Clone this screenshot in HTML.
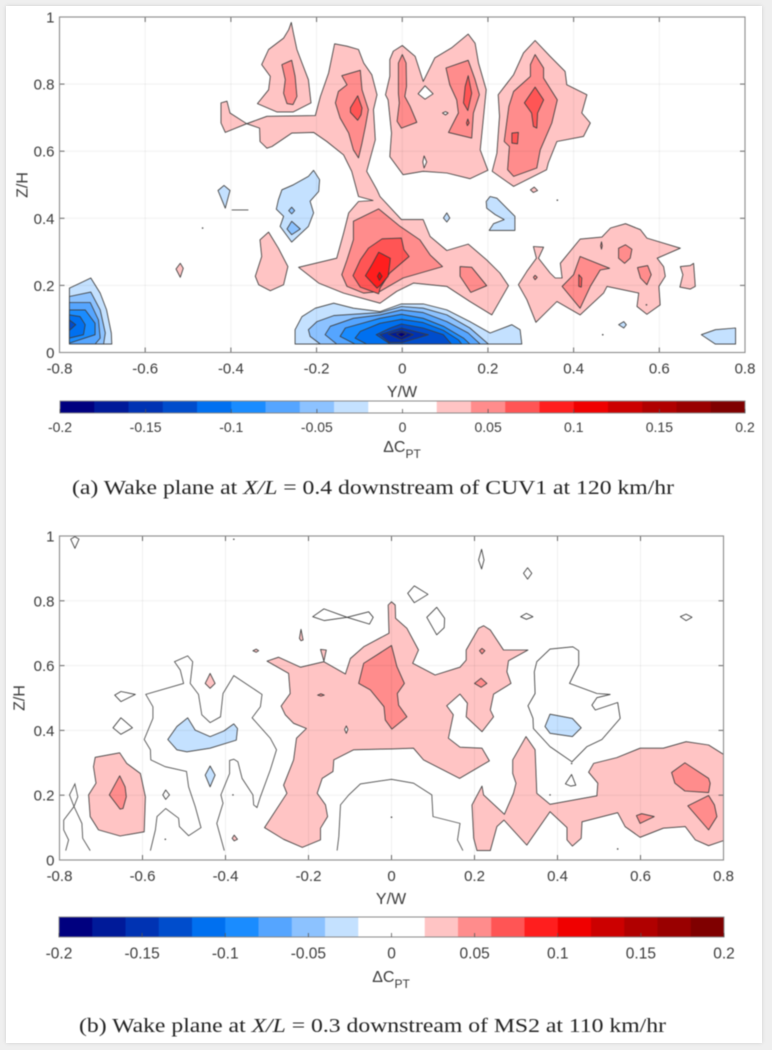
<!DOCTYPE html>
<html lang="en">
<head>
<meta charset="utf-8">
<title>Wake plane total pressure difference contours</title>
<style>
  html, body { margin: 0; padding: 0; width: 772px; height: 1050px; overflow: hidden; background: #efefef; }
  #card { position: absolute; left: 6px; top: 6px; width: 756px; height: 1037px; background: #fff; box-shadow: 0 0 4px rgba(0,0,0,.12); }
  #figure { position: absolute; left: 0; top: 0; filter: blur(0.45px); }
  text { font-family: "Liberation Sans", sans-serif; fill: #3a3a3a; }
  .tick { font-size: 15px; }
  .title { font-size: 16px; }
  .caption { font-family: "Liberation Serif", serif; font-size: 20.5px; fill: #222; }
  .caption tspan.it { font-style: italic; }
</style>
</head>
<body>
<div id="card"></div>
<svg id="figure" width="772" height="1050" viewBox="0 0 772 1050" xmlns="http://www.w3.org/2000/svg">
  <g id="panel-a"></g>
  <g id="panel-b"></g>
  <text class="caption" x="72" y="494" textLength="602" lengthAdjust="spacingAndGlyphs">(a)  Wake plane at <tspan class="it">X/L</tspan> = 0.4 downstream of CUV1 at 120 km/hr</text>
  <text class="caption" x="79" y="1032" textLength="587" lengthAdjust="spacingAndGlyphs">(b)  Wake plane at <tspan class="it">X/L</tspan> = 0.3 downstream of MS2 at 110 km/hr</text>
</svg>
<script>
const xTicks = [-0.8, -0.6, -0.4, -0.2, 0, 0.2, 0.4, 0.6, 0.8];
const yTicks = [0, 0.2, 0.4, 0.6, 0.8, 1];
const colorbarTicks = [-0.2, -0.15, -0.1, -0.05, 0, 0.05, 0.1, 0.15, 0.2];
const colorbarBins = [-0.19,-0.17,-0.15,-0.13,-0.11,-0.09,-0.07,-0.05,-0.03,-0.01,0.01,0.03,0.05,0.07,0.09,0.11,0.13,0.15,0.17,0.19];

/* Each contour: [ΔCpt level, [y/w, z/h, y/w, z/h, ...]] */
const panelAContours = [
  [0.03,[-.259,.984,-.254,.952,-.246,.903,-.234,.863,-.219,.813,-.213,.744,-.254,.717,-.293,.717,-.338,.742,-.312,.783,-.308,.823,-.328,.858,-.312,.903,-.277,.937,-.265,.962]],
  [0.05,[-.281,.858,-.258,.871,-.25,.823,-.246,.763,-.255,.739,-.269,.742,-.277,.773,-.273,.813]],
  [-0.03,[-.25,.025,-.25,.068,-.234,.107,-.203,.132,-.16,.147,-.114,.132,-.052,.122,-.002,.145,.049,.145,.104,.127,.158,.092,.205,.058,.256,.083,.275,.068,.279,.025]],
  [-0.05,[-.191,.025,-.215,.048,-.219,.068,-.199,.092,-.16,.11,-.052,.119,-.002,.137,.049,.132,.104,.112,.158,.073,.201,.025]],
  [-0.07,[-.153,.025,-.18,.053,-.168,.078,-.114,.102,-.052,.112,-.002,.127,.049,.119,.104,.092,.154,.058,.182,.025]],
  [-0.09,[-.11,.025,-.145,.048,-.133,.073,-.052,.102,-.002,.114,.049,.102,.096,.078,.143,.043,.158,.025]],
  [-0.11,[-.083,.025,-.11,.043,-.098,.063,-.052,.087,-.002,.099,.049,.089,.096,.066,.131,.038,.139,.025]],
  [-0.13,[-.028,.025,-.061,.053,-.028,.073,-.002,.085,.049,.073,.096,.053,.115,.025]],
  [-0.15,[-.052,.053,-.002,.073,.061,.053,.001,.03,-.03,.03]],
  [-0.17,[-.033,.055,-.002,.065,.026,.053,-.002,.038]],
  [-0.19,[-.013,.055,-.002,.06,.01,.055,-.002,.046]],
  [-0.03,[-.777,.025,-.777,.192,-.752,.207,-.727,.222,-.705,.177,-.69,.127,-.679,.058,-.678,.025]],
  [-0.05,[-.777,.025,-.777,.167,-.727,.18,-.705,.127,-.693,.058,-.697,.025]],
  [-0.07,[-.777,.025,-.777,.149,-.728,.149,-.709,.097,-.705,.043,-.717,.025]],
  [-0.09,[-.777,.028,-.777,.127,-.74,.127,-.717,.087,-.717,.053]],
  [-0.11,[-.777,.043,-.777,.112,-.752,.107,-.74,.083,-.744,.053]],
  [-0.13,[-.777,.066,-.777,.097,-.762,.083]],
  [0.03,[-.423,.744,-.409,.749,-.402,.714,-.363,.682,-.316,.704,-.203,.706,-.191,.763,-.172,.833,-.158,.92,-.129,.913,-.102,.903,-.09,.863,-.071,.828,-.059,.768,-.067,.724,-.063,.634,-.083,.54,-.059,.485,-.052,.465,-.002,.396,.049,.396,.065,.346,.104,.304,.154,.323,.197,.276,.228,.237,.248,.199,.209,.112,.158,.152,.104,.197,.026,.207,-.013,.182,-.052,.147,-.137,.177,-.195,.207,-.242,.254,-.153,.281,-.137,.356,-.125,.416,-.102,.45,-.068,.453,-.102,.465,-.118,.54,-.137,.589,-.176,.629,-.207,.656,-.258,.654,-.304,.614,-.316,.609,-.332,.629,-.333,.669,-.363,.682,-.413,.656,-.423,.684]],
  [0.05,[-.141,.825,-.098,.841,-.094,.783,-.079,.724,-.086,.674,-.094,.624,-.102,.58,-.114,.604,-.125,.654,-.145,.699,-.156,.744,-.149,.778,-.129,.798]],
  [0.07,[-.121,.729,-.104,.765,-.094,.729,-.096,.709,-.104,.692,-.121,.716]],
  [0.05,[-.055,.428,-.005,.376,.041,.336,.065,.291,.094,.256,.002,.222,-.052,.182,-.09,.177,-.129,.197,-.141,.232,-.129,.276,-.114,.336,-.114,.391]],
  [0.07,[-.047,.339,-.002,.341,.004,.306,.016,.286,-.029,.237,-.052,.192,-.055,.175,-.098,.195,-.115,.229,-.098,.276,-.079,.311]],
  [0.09,[-.055,.299,-.028,.281,-.029,.266,-.033,.227,-.052,.199,-.059,.192,-.086,.229,-.071,.261]],
  [0.11,[-.053,.239,-.047,.227,-.053,.215,-.058,.227]],
  [-0.03,[-.43,.483,-.416,.498,-.402,.483,-.413,.43]],
  [0.03,[-.528,.249,-.518,.266,-.511,.251,-.518,.224]],
  [-0.03,[-.281,.485,-.254,.5,-.219,.525,-.207,.543,-.193,.515,-.195,.48,-.215,.451,-.207,.416,-.219,.376,-.258,.329,-.285,.376,-.277,.406,-.294,.427,-.289,.455]],
  [-0.05,[-.258,.433,-.251,.423,-.258,.413,-.265,.423]],
  [-0.05,[-.258,.391,-.238,.368,-.258,.351,-.269,.368]],
  [0.03,[-.312,.359,-.289,.311,-.267,.256,-.277,.202,-.308,.184,-.335,.202,-.343,.227,-.328,.286,-.332,.336]],
  [0.03,[0,.915,.03,.883,.049,.808,.076,.878,.115,.908,.154,.949,.17,.922,.178,.863,.196,.783,.186,.654,.182,.604,.2,.543,.158,.518,.104,.535,.049,.54,.002,.53,-.029,.584,-.025,.654,-.033,.753,-.039,.768,-.029,.823,-.029,.873,-.021,.898]],
  [0,[.037,.771,.053,.795,.072,.771,.053,.755]],
  [0,[.094,.714,.101,.718,.107,.714,.101,.708]],
  [0,[.048,.568,.051,.586,.057,.568,.051,.55]],
  [0.05,[0,.888,.009,.863,.01,.793,.006,.763,.018,.734,.034,.686,-.002,.669,-.012,.689,-.007,.744,-.009,.773,-.009,.863]],
  [0.05,[.102,.848,.154,.871,.17,.813,.18,.768,.166,.714,.162,.639,.108,.656,.131,.714,.127,.753,.111,.798]],
  [0.07,[.154,.825,.162,.773,.153,.721,.143,.744,.147,.793]],
  [0.07,[.153,.696,.156,.684,.152,.676,.15,.684]],
  [0.03,[.31,.93,.345,.883,.38,.838,.384,.798,.431,.768,.419,.714,.439,.684,.423,.644,.361,.629,.341,.565,.337,.545,.26,.495,.21,.54,.221,.594,.227,.704,.224,.768,.26,.828,.283,.893]],
  [0.05,[.31,.888,.33,.848,.33,.818,.362,.753,.349,.684,.322,.604,.314,.55,.26,.525,.246,.545,.25,.614,.238,.629,.249,.734,.26,.778,.299,.823,.299,.858]],
  [0.07,[.31,.791,.33,.753,.316,.714,.314,.669,.306,.674,.302,.714,.285,.744]],
  [0.07,[.256,.654,.271,.656,.269,.622,.256,.624]],
  [0.03,[.299,.485,.308,.493,.316,.483,.306,.477]],
  [-0.03,[.096,.401,.104,.416,.111,.401,.104,.389]],
  [-0.03,[.196,.45,.205,.465,.221,.46,.244,.43,.263,.406,.263,.364,.203,.364,.213,.384,.238,.396,.217,.411,.197,.43]],
  [0.05,[.135,.256,.162,.254,.197,.199,.16,.179,.135,.227]],
  [0.03,[.306,.316,.33,.314,.318,.281,.345,.237,.357,.222,.373,.222,.369,.266,.415,.338,.466,.344,.486,.371,.521,.384,.556,.366,.571,.341,.649,.311,.595,.281,.61,.256,.614,.227,.599,.197,.602,.142,.571,.114,.548,.137,.552,.177,.478,.197,.47,.177,.415,.112,.361,.152,.312,.09,.291,.157,.271,.202,.291,.242,.313,.281]],
  [0.05,[.415,.286,.484,.251,.462,.246,.439,.197,.415,.132,.373,.197,.4,.232]],
  [0.07,[.412,.232,.419,.222,.418,.195,.412,.197]],
  [0.05,[.505,.311,.521,.321,.536,.308,.532,.281,.519,.266,.505,.281]],
  [0.05,[.549,.253,.573,.259,.581,.232,.571,.202,.556,.222]],
  [0.05,[.306,.224,.31,.23,.315,.224,.31,.217]],
  [0.05,[.463,.318,.465,.33,.467,.318,.465,.308]],
  [0.03,[.649,.256,.672,.259,.68,.266,.684,.197,.672,.189,.648,.195,.655,.232]],
  [-0.03,[.505,.083,.517,.092,.523,.083,.517,.073]],
  [-0.03,[.698,.053,.731,.068,.778,.073,.778,.025,.731,.025]]
];
const panelALines = [[-.398,.425,-.359,.425]];
const panelADots = [[-.466,.371],[.362,.454],[.57,.142],[.468,.053]];

const panelBContours = [
  [0,[-.773,.99,-.763,.998,-.753,.99,-.763,.962]],
  [0,[-.667,.509,-.652,.52,-.617,.511,-.652,.489]],
  [0,[-.671,.408,-.652,.439,-.624,.408,-.652,.388]],
  [0,[-.551,.201,-.544,.216,-.535,.201,-.544,.187]],
  [0,[-.19,.751,-.163,.775,-.107,.749,-.055,.766,-.044,.749,-.053,.728,-.107,.749,-.162,.739]],
  [0,[.039,.823,.055,.846,.088,.82,.055,.794]],
  [0,[.085,.749,.109,.78,.128,.746,.127,.717,.109,.695]],
  [0,[.21,.926,.217,.959,.223,.926,.217,.898]],
  [0,[.318,.885,.328,.902,.338,.885,.328,.867]],
  [0,[.311,.751,.325,.761,.341,.751,.325,.743]],
  [0,[.696,.751,.71,.759,.724,.749,.71,.739]],
  [0,[.382,.651,.437,.658,.451,.646,.451,.602,.429,.545,.495,.514,.527,.511,.495,.501,.483,.478,.491,.463,.545,.486,.551,.437,.507,.372,.471,.35,.435,.303,.382,.35,.342,.406,.341,.437,.329,.476,.346,.514,.344,.581,.35,.612]],
  [0,[.419,.235,.434,.264,.444,.231,.432,.228]],
  [-0.03,[.382,.45,.436,.437,.457,.408,.436,.381,.382,.391,.37,.412]],
  [0.03,[-.3,.614,-.272,.626,-.219,.595,-.163,.612,-.111,.574,-.099,.622,-.067,.658,-.006,.7,-.008,.787,0,.797,.009,.787,.01,.746,.037,.715,.065,.648,.051,.607,.105,.571,.165,.595,.18,.617,.18,.648,.21,.715,.222,.723,.238,.71,.27,.648,.329,.648,.282,.615,.278,.581,.288,.545,.246,.512,.238,.463,.246,.442,.218,.396,.18,.442,.183,.484,.165,.512,.133,.476,.149,.448,.137,.376,.165,.348,.218,.345,.236,.306,.164,.252,.077,.309,.053,.345,0,.343,-.091,.34,-.139,.309,-.141,.273,-.167,.252,-.179,.206,-.159,.17,-.154,.134,-.171,.098,-.171,.062,-.215,.039,-.26,.064,-.306,.1,-.252,.206,-.26,.231,-.236,.309,-.229,.376,-.205,.406,-.236,.422,-.256,.448,-.266,.475,-.244,.514,-.248,.576]],
  [0.05,[0,.662,.013,.597,.031,.545,.014,.514,.017,.478,.037,.442,.001,.404,-.015,.432,-.018,.473,-.051,.525,-.079,.545,-.067,.607,-.035,.633]],
  [0.05,[-.178,.509,-.17,.513,-.162,.509,-.17,.506]],
  [0,[-.113,.403,-.109,.414,-.105,.403,-.109,.391]],
  [0.03,[-.171,.65,-.157,.648,-.163,.614]],
  [0.03,[-.222,.684,-.218,.712,-.213,.679,-.218,.677]],
  [0.03,[-.334,.646,-.326,.651,-.32,.646,-.326,.641]],
  [0.03,[-.449,.545,-.437,.576,-.425,.545,-.437,.53]],
  [-0.03,[-.449,.262,-.437,.29,-.425,.262,-.437,.226]],
  [-0.03,[-.539,.372,-.517,.412,-.491,.439,-.473,.401,-.437,.381,-.404,.398,-.38,.42,-.371,.406,-.374,.37,-.437,.345,-.493,.334,-.517,.34]],
  [0.03,[-.714,.317,-.655,.331,-.638,.298,-.605,.267,-.593,.195,-.596,.087,-.654,.074,-.706,.093,-.726,.134,-.73,.201,-.712,.237,-.718,.288]],
  [0.05,[-.655,.26,-.642,.226,-.639,.195,-.647,.159,-.654,.157,-.68,.201]],
  [0.03,[.194,.17,.218,.228,.222,.201,.272,.141,.294,.206,.3,.237,.292,.267,.292,.309,.324,.381,.346,.34,.35,.206,.382,.172,.495,.198,.497,.237,.475,.271,.487,.298,.543,.316,.599,.345,.655,.345,.71,.365,.764,.355,.8,.326,.8,.06,.764,.044,.732,.062,.708,.103,.655,.098,.599,.07,.563,.103,.545,.146,.459,.118,.457,.067,.436,.043,.423,.062,.423,.1,.382,.149,.326,.046,.271,.123,.254,.103,.238,.029,.206,.029,.198,.067]],
  [0.05,[.675,.27,.707,.3,.764,.252,.768,.237,.764,.208,.707,.213,.683,.237]],
  [0.05,[.714,.167,.764,.199,.778,.17,.784,.134,.764,.093]],
  [0.05,[.59,.137,.603,.143,.633,.134,.599,.113]],
  [0.05,[.212,.646,.218,.653,.225,.646,.218,.636]],
  [0.05,[.2,.545,.216,.561,.23,.545,.216,.533]],
  [0.03,[-.384,.067,-.379,.077,-.371,.064,-.379,.059]]
];
const panelBLines = [
  [-.785,.029,-.778,.062,-.79,.093,-.79,.123,-.765,.165,-.776,.201,-.763,.235,-.756,.195,-.765,.165,-.746,.113,-.744,.067,-.726,.029],
  [-.581,.029,-.569,.093,-.565,.134,-.544,.159,-.513,.129,-.511,.103,-.489,.075,-.459,.1,-.473,.165,-.489,.226,-.494,.273,-.545,.288,-.58,.309,-.581,.34,-.596,.372,-.575,.437,-.575,.473,-.592,.511,-.501,.545,-.509,.586,-.523,.612,-.491,.63,-.479,.612,-.485,.545,-.465,.511,-.457,.448,-.437,.424,-.412,.442,-.406,.514,-.38,.569,-.312,.511,-.316,.473,-.336,.439,-.292,.376,-.277,.34,-.292,.278,-.316,.195,-.324,.162,-.332,.17,-.334,.201,-.36,.252,-.37,.303,-.38,.311,-.39,.307,-.39,.267,-.411,.201,-.406,.175,-.421,.113,-.403,.029],
  [-.131,.029,-.127,.072,-.123,.17,-.103,.201,-.075,.235,0,.249,.053,.237,.097,.201,.1,.134,.165,.113,.159,.062,.172,.029]
];
const panelBDots = [[-.38,.99],[-.382,.201],[-.545,.064],[0,.132],[.382,.201],[.434,.298],[.545,.034]];

const binColors = ['#00007f','#001a99','#0033b3','#004dcc','#0070f0','#1a8cff','#55a5ff','#8cc2ff','#c4e1ff','#ffffff','#ffffff','#ffc4c4','#ff8c8c','#ff5555','#ff1e1e','#f00000','#cc0000','#b00000','#990000','#7f0000'];

const SVGNS = 'http://www.w3.org/2000/svg';
function make(tag, parent, attrs) {
  const el = document.createElementNS(SVGNS, tag);
  for (const k in attrs) el.setAttribute(k, attrs[k]);
  parent.appendChild(el);
  return el;
}
function colorFor(v) {
  const i = Math.max(0, Math.min(19, Math.floor((v + 0.2) / 0.02 + 1e-9)));
  return binColors[i];
}
function pointsOf(flat, sx, sy) {
  const out = [];
  for (let i = 0; i < flat.length; i += 2) out.push(sx(flat[i]).toFixed(1) + ',' + sy(flat[i + 1]).toFixed(1));
  return out.join(' ');
}
function drawPanel(root, box, contours, lines, dots, cb, labels) {
  const sx = v => box.x0 + (v + 0.8) / 1.6 * (box.x1 - box.x0);
  const sy = v => box.y0 - v * (box.y0 - box.y1);
  const marks = make('g', root, {});
  
  
  contours.forEach(c => {
    const poly = make('polygon', marks, {
      points: pointsOf(c[1], sx, sy),
      fill: colorFor(c[0]),
      stroke: '#3c3c3c',
      'stroke-width': 0.85,
      'stroke-linejoin': 'round'
    });
    
    
  });
  lines.forEach(l => {
    const line = make('polyline', marks, {
      points: pointsOf(l, sx, sy),
      fill: 'none',
      stroke: '#4a4a4a',
      'stroke-width': 0.85
    });
    
    
  });
  dots.forEach(d => {
    const dot = make('circle', marks, { cx: sx(d[0]), cy: sy(d[1]), r: 0.8, fill: '#444' });
    
    
  });
  const axes = make('g', root, {});
  
  
  xTicks.forEach(t => {
    const x = sx(t);
    make('line', axes, { x1: x, x2: x, y1: box.y1, y2: box.y0, stroke: 'rgba(0,0,0,.06)', 'stroke-width': 1 });
    make('line', axes, { x1: x, x2: x, y1: box.y0, y2: box.y0 - 5, stroke: '#666', 'stroke-width': 1 });
    make('line', axes, { x1: x, x2: x, y1: box.y1, y2: box.y1 + 5, stroke: '#666', 'stroke-width': 1 });
    const lab = make('text', axes, { class: 'tick', x: x, y: labels.xTickY, 'text-anchor': 'middle' });
    lab.textContent = String(t);
    
    
  });
  yTicks.forEach(t => {
    const y = sy(t);
    make('line', axes, { x1: box.x0, x2: box.x1, y1: y, y2: y, stroke: 'rgba(0,0,0,.06)', 'stroke-width': 1 });
    make('line', axes, { x1: box.x0, x2: box.x0 + 5, y1: y, y2: y, stroke: '#666', 'stroke-width': 1 });
    make('line', axes, { x1: box.x1, x2: box.x1 - 5, y1: y, y2: y, stroke: '#666', 'stroke-width': 1 });
    const lab = make('text', axes, { class: 'tick', x: box.x0 - 5, y: y + 5.5, 'text-anchor': 'end' });
    lab.textContent = String(t);
    
    
  });
  const frame = make('rect', axes, { x: box.x0, y: box.y1, width: box.x1 - box.x0, height: box.y0 - box.y1, fill: 'none', stroke: '#8a8a8a', 'stroke-width': 1.1 });
  
  
  const xt = make('text', axes, { class: 'title', x: labels.xTitleX, y: labels.xTitleY, 'text-anchor': 'middle' });
  xt.textContent = 'Y/W';
  
  
  const yt = make('text', axes, { class: 'title', transform: 'translate(' + labels.yTitleX + ',' + labels.yTitleY + ') rotate(-90)', 'text-anchor': 'middle' });
  yt.textContent = 'Z/H';
  
  

  const bar = make('g', root, {});
  
  
  const cx = v => cb.x0 + (v + 0.2) / 0.4 * (cb.x1 - cb.x0);
  colorbarBins.forEach(v => {
    const seg = make('rect', bar, { x: cx(v - 0.01), y: cb.y0, width: cx(v + 0.01) - cx(v - 0.01) + 0.3, height: cb.y1 - cb.y0, fill: colorFor(v) });
    
    
  });
  make('rect', bar, { x: cb.x0, y: cb.y0, width: cb.x1 - cb.x0, height: cb.y1 - cb.y0, fill: 'none', stroke: '#8a8a8a', 'stroke-width': 1 });
  colorbarTicks.forEach(t => {
    make('line', bar, { x1: cx(t), x2: cx(t), y1: cb.y1, y2: cb.y1 - 4, stroke: '#555', 'stroke-width': 0.8 });
    const lab = make('text', bar, { class: 'tick', x: cx(t), y: cb.labelY, 'text-anchor': 'middle' });
    lab.style.fontSize = cb.font + 'px';
    lab.textContent = String(t);
    
    
  });
  const cbt = make('text', bar, { class: 'title', x: cb.titleX, y: cb.titleY, 'text-anchor': 'middle' });
  cbt.textContent = '\u0394C';
  
  
  const sub = make('tspan', cbt, { dy: 6 });
  sub.style.fontSize = '12px';
  sub.textContent = 'PT';
}
drawPanel(document.getElementById('panel-a'),
  { x0: 59.5, x1: 745, y0: 352.5, y1: 17 }, panelAContours, panelALines, panelADots,
  { x0: 60, x1: 745, y0: 401, y1: 413, labelY: 432, font: 14, titleX: 402, titleY: 452 },
  { xTickY: 373.5, xTitleX: 402, xTitleY: 397, yTitleX: 27.5, yTitleY: 185 });
drawPanel(document.getElementById('panel-b'),
  { x0: 59.5, x1: 723.5, y0: 860, y1: 536 }, panelBContours, panelBLines, panelBDots,
  { x0: 59, x1: 724, y0: 917, y1: 937, labelY: 958.5, font: 15.5, titleX: 391, titleY: 982 },
  { xTickY: 881, xTitleX: 391, xTitleY: 904, yTitleX: 24.5, yTitleY: 698 });
</script>
</body>
</html>
